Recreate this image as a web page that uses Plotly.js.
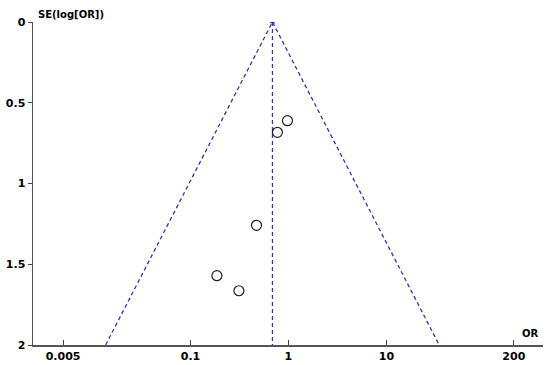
<!DOCTYPE html>
<html>
<head>
<meta charset="utf-8">
<script src="https://cdn.plot.ly/plotly-3.0.1.min.js"></script>
<style>
  html, body { margin: 0; padding: 0; background: #fff; }
  #plot { width: 550px; height: 365px; }
</style>
</head>
<body>
<div id="plot"></div>
<script>
// study points
var studyOR = [0.977, 0.772, 0.472, 0.186, 0.312];
var studySE = [0.611, 0.683, 1.259, 1.571, 1.664];

// pooled estimate and funnel limits (at SE = 2)
var pooledOR = 0.687;
var funnelLeftOR = 0.0136;
var funnelRightOR = 34.6;
var seMax = 2;

var xTickVals = [0.005, 0.1, 1, 10, 200];
var xTickText = ['0.005', '0.1', '1', '10', '200'];
var yTickVals = [0, 0.5, 1, 1.5, 2];
var yTickText = ['0', '0.5', '1', '1.5', '2'];

var lineColor = '#3434b4';

var funnel = {
    x: [funnelLeftOR, pooledOR, funnelRightOR],
    y: [seMax, 0, seMax],
    mode: 'lines',
    line: {color: lineColor, width: 1.3, dash: '4px,3px'},
    hoverinfo: 'skip'
};
var pooledLine = {
    x: [pooledOR, pooledOR],
    y: [0, seMax],
    mode: 'lines',
    line: {color: lineColor, width: 1.3, dash: '4px,3px'},
    hoverinfo: 'skip'
};
var apex = {
    x: [pooledOR],
    y: [0],
    mode: 'markers',
    marker: {symbol: 'triangle-up', size: 5, color: lineColor},
    hoverinfo: 'skip'
};
var studies = {
    x: studyOR,
    y: studySE,
    mode: 'markers',
    marker: {symbol: 'circle-open', size: 10, color: '#222', line: {width: 1.2, color: '#222'}}
};

var tickFont = {family: 'DejaVu Sans', size: 11, color: '#000', weight: 'bold'};

var layout = {
    width: 550,
    height: 365,
    margin: {l: 33, r: 7, t: 22, b: 20},
    paper_bgcolor: '#fff',
    plot_bgcolor: '#fff',
    showlegend: false,
    xaxis: {
        type: 'log',
        range: [-2.608, 2.599],
        tickvals: xTickVals,
        ticktext: xTickText,
        ticks: 'inside',
        ticklen: 5,
        tickcolor: '#444',
        tickfont: tickFont,
        showgrid: false,
        zeroline: false,
        showline: true,
        linecolor: '#555',
        linewidth: 1.5
    },
    yaxis: {
        range: [2, 0],
        tickvals: yTickVals,
        ticktext: yTickText,
        ticks: 'outside',
        ticklen: 4,
        tickcolor: '#444',
        tickfont: tickFont,
        showgrid: false,
        zeroline: false,
        showline: true,
        linecolor: '#555',
        linewidth: 1.5
    },
    annotations: [
        {
            text: 'SE(log[OR])', xref: 'paper', yref: 'paper', x: 0, y: 1,
            xanchor: 'left', yanchor: 'bottom', xshift: 3, yshift: 0, showarrow: false,
            font: {family: 'DejaVu Sans', size: 10, color: '#000', weight: 'bold'}
        },
        {
            text: 'OR', xref: 'paper', yref: 'paper', x: 1, y: 0,
            xanchor: 'right', yanchor: 'bottom', xshift: -2, yshift: 4, showarrow: false,
            font: {family: 'DejaVu Sans', size: 10, color: '#000', weight: 'bold'}
        }
    ]
};

Plotly.newPlot('plot', [funnel, pooledLine, apex, studies], layout, {staticPlot: true});
</script>
</body>
</html>
